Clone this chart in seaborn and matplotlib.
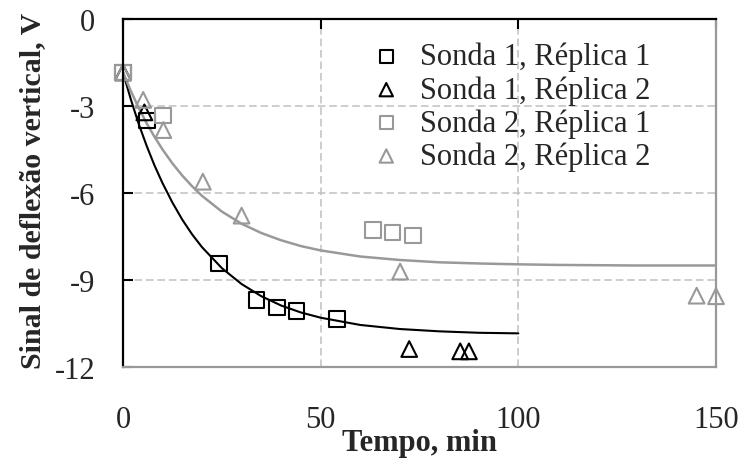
import matplotlib
matplotlib.use("Agg")
import matplotlib.pyplot as plt
import seaborn as sns
import pandas as pd

# ---- data ----
s1r1_x = [0, 6.0, 24.3, 33.8, 38.9, 43.9, 54.1]
s1r1_y = [-1.84, -3.50, -8.43, -9.68, -9.95, -10.08, -10.34]

s1r2_x = [0, 5.4, 72.4, 85.3, 87.5]
s1r2_y = [-1.84, -3.22, -11.38, -11.46, -11.46]

s2r1_x = [0, 10.2, 63.2, 68.2, 73.3]
s2r1_y = [-1.84, -3.33, -7.28, -7.36, -7.47]

s2r2_x = [0, 5.1, 10.2, 20.2, 30.0, 70.1, 145.1, 150]
s2r2_y = [-1.84, -2.79, -3.83, -5.61, -6.78, -8.71, -9.54, -9.56]

# fitted curves
fit1_x = [0, 2, 4, 6, 8, 10, 12.5, 15, 17.5, 20, 25, 30, 35, 40, 45, 50, 60, 70, 80, 90, 100]
fit1_y = [-1.84, -2.78, -3.63, -4.38, -5.06, -5.66, -6.33, -6.92, -7.43, -7.87, -8.59,
          -9.14, -9.56, -9.88, -10.12, -10.30, -10.55, -10.69, -10.77, -10.82, -10.84]

fit2_x = [0, 2, 4, 6, 8, 10, 12.5, 15, 17.5, 20, 25, 30, 35, 40, 45, 50, 60, 70, 80, 90,
          100, 110, 120, 130, 140, 150]
fit2_y = [-1.84, -2.49, -3.07, -3.60, -4.07, -4.50, -4.98, -5.40, -5.77, -6.10, -6.64,
          -7.06, -7.38, -7.63, -7.83, -7.98, -8.19, -8.31, -8.39, -8.43, -8.46, -8.48,
          -8.49, -8.50, -8.50, -8.50]

labels = ["Sonda 1, Réplica 1", "Sonda 1, Réplica 2", "Sonda 2, Réplica 1", "Sonda 2, Réplica 2"]
x_ticks = [0, 50, 100, 150]
y_ticks = [0, -3, -6, -9, -12]
x_label = "Tempo, min"
y_label = "Sinal de deflexão vertical, V"

# ---- styling ----
sns.set_style("white")
plt.rcParams["font.family"] = ["Liberation Serif", "DejaVu Serif"]
plt.rcParams["axes.unicode_minus"] = False

BLACK = "#000000"
GRAY = "#999999"
GRID = "#c0c0c0"

fig = plt.figure(figsize=(7.43, 4.60), dpi=100)
ax = fig.add_axes([123 / 743, 1 - 368 / 460, (716 - 123) / 743, (368 - 20) / 460])

df_f1 = pd.DataFrame({"x": fit1_x, "y": fit1_y})
df_f2 = pd.DataFrame({"x": fit2_x, "y": fit2_y})
sns.lineplot(data=df_f1, x="x", y="y", color=BLACK, lw=1.5, ax=ax, legend=False, zorder=3)
sns.lineplot(data=df_f2, x="x", y="y", color=GRAY, lw=1.8, ax=ax, legend=False, zorder=3)

series = [
    (s1r1_x, s1r1_y, "s", BLACK, labels[0]),
    (s1r2_x, s1r2_y, "^", BLACK, labels[1]),
    (s2r1_x, s2r1_y, "s", GRAY, labels[2]),
    (s2r2_x, s2r2_y, "^", GRAY, labels[3]),
]
for xs, ys, mk, col, lab in series:
    sns.scatterplot(x=xs, y=ys, marker=mk, s=128, facecolor="none", edgecolor=col,
                    linewidth=1.5, ax=ax, label=lab, clip_on=False, zorder=4)

ax.set_xlim(0, 150)
ax.set_ylim(-12, 0)
ax.set_xticks(x_ticks)
ax.set_yticks(y_ticks)
ax.set_xticklabels([str(v) for v in x_ticks])
ax.set_yticklabels([str(v) for v in y_ticks])

ax.grid(True, color=GRID, linestyle=(0, (5, 2.5)), linewidth=1.1)
ax.set_axisbelow(True)

for side in ["top", "left"]:
    ax.spines[side].set_color(BLACK)
    ax.spines[side].set_linewidth(1.6)
for side in ["bottom", "right"]:
    ax.spines[side].set_color(GRAY)
    ax.spines[side].set_linewidth(1.6)
for s in ax.spines.values():
    s.set_zorder(5)

ax.tick_params(axis="x", top=True, bottom=False, labeltop=False, labelbottom=True,
               direction="in", length=7, width=1.5, color=BLACK, pad=27, labelsize=22)
ax.tick_params(axis="y", left=True, right=False, direction="in", length=7, width=1.5,
               color=BLACK, pad=20, labelsize=22)

ax.set_xlabel(x_label, fontsize=22, fontweight="bold", labelpad=-4)
ax.set_ylabel(y_label, fontsize=21.5, fontweight="bold", labelpad=6)
ax.yaxis.label.set_y(0.51)

leg = ax.legend(loc="upper left", bbox_to_anchor=(371 / 743, 1 - 43 / 460),
                bbox_transform=fig.transFigure, frameon=False, fontsize=22,
                handlelength=1.0, handletextpad=0.6, labelspacing=0.12,
                borderpad=0, borderaxespad=0, markerscale=0.85)

fig.savefig("out.png", dpi=100)
